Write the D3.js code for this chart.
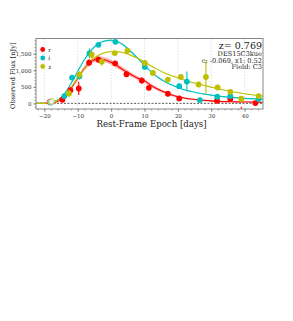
<!DOCTYPE html>
<html>
<head>
<meta charset="utf-8">
<script src="https://cdn.jsdelivr.net/npm/d3@7"></script>
<style>
	body {margin: 0; background: white;}
	svg {display: block; font-family: 'DejaVu Serif', serif;}
</style>
</head>
<body>
<svg id="chart" width="293" height="321"></svg>
<script>
(function(){
	'use strict';

	// Observations: [epoch, flux, error].
	var pointsR = [
		[-14.6, 110, 60], [-12.2, 400, 80], [-9.7, 450, 200], [-6.6, 1230, 100],
		[-3.8, 1320, 90], [1.2, 1210, 60], [4.6, 880, 80], [9.2, 690, 100],
		[11.3, 470, 80], [17.0, 290, 60], [20.4, 150, 60], [31.7, 80, 60],
		[35.7, 130, 60], [39.0, -300, 200], [43.2, 10, 60]];
	var pointsI = [
		[-14.0, 220, 60], [-11.7, 780, 80], [-9.5, 820, 100], [-6.5, 1510, 150],
		[-3.8, 1770, 60], [1.3, 1860, 60], [10.1, 1100, 80], [20.4, 520, 80],
		[22.7, 660, 300], [26.6, 100, 50], [31.8, 200, 60], [35.7, 220, 70],
		[44.2, 130, 60]];
	var pointsZ = [
		[-12.6, 300, 120], [-9.5, 870, 100], [-5.8, 1470, 120], [-2.8, 1260, 120],
		[1.1, 1520, 60], [4.9, 1590, 80], [10.1, 1220, 70], [12.5, 920, 80],
		[17.0, 720, 80], [20.9, 800, 80], [26.2, 570, 80], [28.4, 800, 500],
		[31.9, 480, 60], [35.7, 350, 80], [39.0, 140, 80], [44.2, 220, 80]];
	// Excluded (open) observations.
	var openR = [[-18.4, 40]];
	var openI = [[-18.0, 30]];
	var openZ = [[-17.7, 60]];

	// Model light curves: [epoch, flux, band half width].
	var modelR = [
		[-22.5, 0, 0], [-20, 0, 0], [-18, 10, 5], [-16, 60, 15], [-14, 200, 30], [-12, 450, 45],
		[-10, 760, 60], [-8, 1060, 70], [-6, 1260, 75], [-4, 1345, 75], [-2, 1320, 75],
		[0, 1240, 75], [2, 1120, 75], [4, 990, 70], [6, 870, 65], [8, 760, 60],
		[10, 680, 55], [12, 540, 50], [14, 430, 45], [16, 340, 40], [18, 260, 35],
		[20, 200, 30], [24, 130, 25], [28, 90, 20], [32, 60, 18], [36, 50, 16],
		[40, 40, 15], [45.5, 35, 15]];
	var modelI = [
		[-22.5, 0, 0], [-20, 0, 0], [-18, 20, 5], [-16, 100, 10], [-14, 290, 15], [-12, 600, 20],
		[-10, 970, 25], [-8, 1320, 28], [-6, 1600, 30], [-4, 1790, 30], [-2, 1885, 30],
		[0, 1905, 30], [2, 1860, 30], [4, 1740, 30], [6, 1560, 28], [8, 1360, 26],
		[10, 1150, 24], [12, 950, 22], [14, 790, 20], [16, 660, 18], [18, 560, 16],
		[20, 475, 15], [24, 360, 12], [28, 280, 10], [32, 220, 10], [36, 180, 10],
		[40, 150, 10], [45.5, 130, 10]];
	var modelZ = [
		[-22.5, 0, 0], [-20, 0, 0], [-18, 20, 4], [-16, 90, 6], [-14, 240, 8], [-12, 480, 10],
		[-10, 770, 12], [-8, 1060, 14], [-6, 1290, 15], [-4, 1440, 15], [-2, 1530, 15],
		[0, 1560, 15], [2, 1560, 15], [4, 1520, 15], [6, 1450, 15], [8, 1360, 14],
		[10, 1250, 14], [12, 1130, 13], [14, 1020, 12], [16, 920, 12], [18, 840, 11],
		[20, 770, 10], [24, 640, 10], [28, 540, 9], [32, 440, 8], [36, 360, 8],
		[40, 290, 8], [45.5, 220, 8]];

	var bands = [
		{name: 'r', color: '#ff0000', points: pointsR, open: openR, model: modelR, bandOpacity: 0.3},
		{name: 'i', color: '#00bfbf', points: pointsI, open: openI, model: modelI, bandOpacity: 0.35},
		{name: 'z', color: '#bfbf00', points: pointsZ, open: openZ, model: modelZ, bandOpacity: 0.35}];

	var xTicks = [-20, -10, 0, 10, 20, 30, 40];
	var yTicks = [0, 500, 1000, 1500];
	var infoLines = ['DES15C3kue', 'c: -0.069, x1: 0.52', 'Field: C3'];
	var redshift = 'z= 0.769';

	var left = 36, right = 263, top = 38.5, bottom = 109;
	var svg = d3.select('#chart');

	var x = d3.scaleLinear().domain([-22.5, 45.5]).range([left, right]);
	var y = d3.scaleLinear().domain([-170, 1960]).range([bottom, top]);

	svg.append('defs').append('clipPath').attr('id', 'clip')
		.append('rect')
		.attr('x', left).attr('y', top)
		.attr('width', right - left).attr('height', bottom - top);

	// Vertical grid.
	svg.append('g').selectAll('line').data(xTicks).enter()
		.append('line')
		.attr('x1', x).attr('x2', x)
		.attr('y1', top).attr('y2', bottom)
		.attr('stroke', '#d8d8d8')
		.attr('stroke-width', 0.8)
		.attr('stroke-dasharray', '1.5,1.5');

	// Zero line.
	svg.append('line')
		.attr('x1', left).attr('x2', right)
		.attr('y1', y(0)).attr('y2', y(0))
		.attr('stroke', '#333')
		.attr('stroke-width', 0.8)
		.attr('stroke-dasharray', '2,1.5');

	var plot = svg.append('g').attr('clip-path', 'url(#clip)');

	var area = d3.area()
		.x(function(d) {return x(d[0]);})
		.y0(function(d) {return y(d[1] - d[2]);})
		.y1(function(d) {return y(d[1] + d[2]);})
		.curve(d3.curveMonotoneX);
	var line = d3.line()
		.x(function(d) {return x(d[0]);})
		.y(function(d) {return y(d[1]);})
		.curve(d3.curveMonotoneX);

	bands.forEach(function(b) {
		plot.append('path')
			.datum(b.model)
			.attr('d', area)
			.attr('fill', b.color)
			.attr('fill-opacity', b.bandOpacity)
			.attr('stroke', 'none');
		plot.append('path')
			.datum(b.model)
			.attr('d', line)
			.attr('fill', 'none')
			.attr('stroke', b.color)
			.attr('stroke-width', 1.1);
	});

	bands.forEach(function(b) {
		var g = plot.append('g');
		g.selectAll('line').data(b.points).enter()
			.append('line')
			.attr('x1', function(d) {return x(d[0]);})
			.attr('x2', function(d) {return x(d[0]);})
			.attr('y1', function(d) {return y(d[1] - d[2]);})
			.attr('y2', function(d) {return y(d[1] + d[2]);})
			.attr('stroke', b.color)
			.attr('stroke-width', 1.1);
		g.selectAll('circle.pt').data(b.points).enter()
			.append('circle')
			.attr('class', 'pt')
			.attr('cx', function(d) {return x(d[0]);})
			.attr('cy', function(d) {return y(d[1]);})
			.attr('r', 2.9)
			.attr('fill', b.color);
		g.selectAll('circle.open').data(b.open).enter()
			.append('circle')
			.attr('class', 'open')
			.attr('cx', function(d) {return x(d[0]);})
			.attr('cy', function(d) {return y(d[1]);})
			.attr('r', 2.8)
			.attr('fill', 'white')
			.attr('fill-opacity', 0.6)
			.attr('stroke', b.color)
			.attr('stroke-width', 0.7);
	});

	// Frame.
	svg.append('rect')
		.attr('x', left).attr('y', top)
		.attr('width', right - left).attr('height', bottom - top)
		.attr('fill', 'none')
		.attr('stroke', '#888')
		.attr('stroke-width', 1);

	// Axes.
	var xAxis = d3.axisBottom(x).tickValues(xTicks).tickSize(3).tickPadding(2);
	var xMinor = d3.axisBottom(x).tickValues(d3.range(-22, 46, 2)).tickSize(1.5).tickFormat('');
	var yAxis = d3.axisLeft(y).tickValues(yTicks).tickSize(3).tickPadding(1.5);
	var yMinor = d3.axisLeft(y).tickValues(d3.range(-100, 1960, 100)).tickSize(1.5).tickFormat('');

	[xMinor, xAxis].forEach(function(a) {
		svg.append('g').attr('transform', 'translate(0,' + bottom + ')').call(a);
	});
	[yMinor, yAxis].forEach(function(a) {
		svg.append('g').attr('transform', 'translate(' + left + ',0)').call(a);
	});
	svg.selectAll('.domain').remove();
	svg.selectAll('.tick line').attr('stroke', '#666').attr('stroke-width', 0.6);
	svg.selectAll('.tick text')
		.attr('fill', '#333')
		.style('font-family', "'DejaVu Serif', serif")
		.style('font-size', '5.5px');

	svg.append('text')
		.attr('x', (left + right) / 2 + 2)
		.attr('y', 126.5)
		.attr('text-anchor', 'middle')
		.attr('fill', '#222')
		.style('font-size', '8.6px')
		.text('Rest-Frame Epoch [days]');
	svg.append('text')
		.attr('transform', 'translate(15,' + ((top + bottom) / 2 + 2) + ')rotate(-90)')
		.attr('text-anchor', 'middle')
		.attr('fill', '#222')
		.style('font-size', '6.6px')
		.text('Observed Flux [nJy]');

	// Legend.
	var legend = svg.append('g').selectAll('g').data(bands).enter()
		.append('g')
		.attr('transform', function(d, i) {return 'translate(42.7,' + (49.5 + i * 8.5) + ')';});
	legend.append('circle').attr('r', 2.4).attr('fill', function(d) {return d.color;});
	legend.append('text')
		.attr('x', 5.5).attr('y', 2)
		.attr('fill', '#222')
		.style('font-size', '5.8px')
		.text(function(d) {return d.name;});

	// Info box.
	svg.append('text')
		.attr('x', 262).attr('y', 48.8)
		.attr('text-anchor', 'end')
		.attr('fill', '#222')
		.style('font-size', '9.5px')
		.text(redshift);
	svg.append('g').selectAll('text').data(infoLines).enter()
		.append('text')
		.attr('x', 262)
		.attr('y', function(d, i) {return 55.6 + i * 6.9;})
		.attr('text-anchor', 'end')
		.attr('fill', '#222')
		.style('font-size', '6.6px')
		.text(function(d) {return d;});
})();
</script>
</body>
</html>
